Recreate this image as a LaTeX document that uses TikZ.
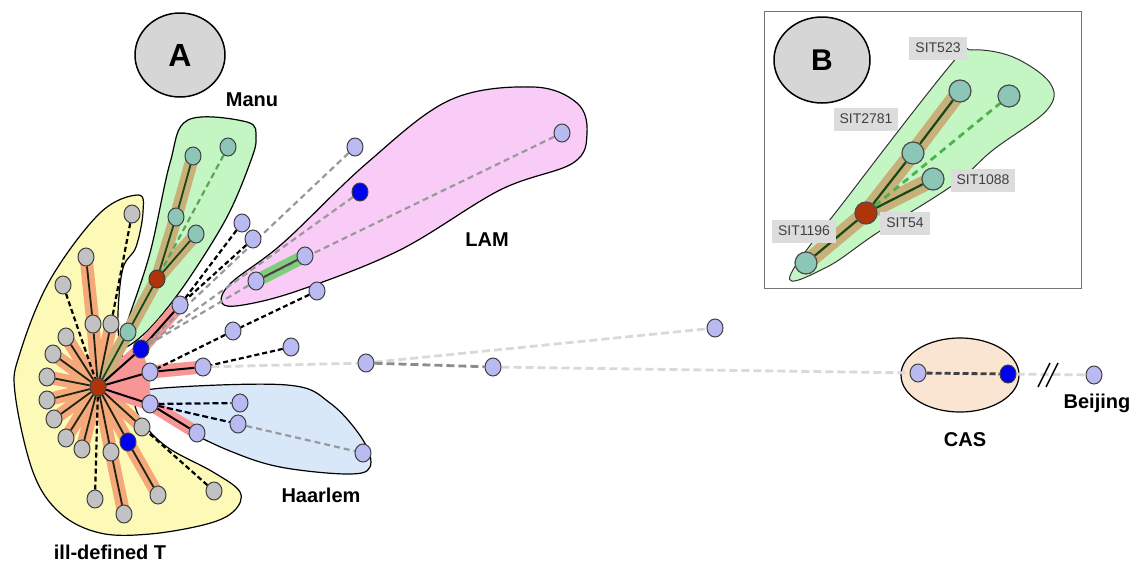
\documentclass[tikz,border=0pt]{standalone}
\usepackage{fontspec}
\setmainfont{Liberation Sans}
\usetikzlibrary{shapes.geometric}
\pgfdeclarelayer{blobs}
\pgfdeclarelayer{hl}
\pgfdeclarelayer{edges}
\pgfsetlayers{blobs,hl,edges,main}
\definecolor{lavnode}{RGB}{186,186,242}
\definecolor{graynode}{RGB}{194,194,194}
\definecolor{tealnode}{RGB}{140,198,182}
\definecolor{bluenode}{RGB}{0,0,240}
\definecolor{rednode}{RGB}{176,52,10}
\definecolor{yellowblob}{RGB}{252,250,182}
\definecolor{greenblob}{RGB}{196,246,196}
\definecolor{pinkblob}{RGB}{248,204,246}
\definecolor{blueblob}{RGB}{216,232,248}
\definecolor{casblob}{RGB}{250,229,210}
\definecolor{fanhl}{RGB}{245,168,122}
\definecolor{redhl}{RGB}{248,150,150}
\definecolor{tanhl}{RGB}{200,176,122}
\definecolor{edgedark}{RGB}{30,36,16}
\definecolor{greenedge}{RGB}{24,72,24}
\definecolor{labelbox}{RGB}{220,220,220}

\begin{document}
\begin{tikzpicture}[x=1pt,y=-1pt,
    vx/.style={ellipse,draw=black!75,line width=1pt,minimum width=16pt,minimum height=18pt,inner sep=0pt},
    lav/.style={vx,fill=lavnode},
    gry/.style={vx,fill=graynode},
    teal/.style={vx,fill=tealnode},
    blu/.style={vx,fill=bluenode},
    red/.style={vx,fill=rednode},
    bvx/.style={circle,draw=black!70,line width=1.2pt,minimum size=22pt,inner sep=0pt,fill=tealnode},
    solidedge/.style={draw=edgedark,line width=1.8pt},
    blkdash/.style={draw=black,line width=2.2pt,dash pattern=on 5pt off 3pt},
    slatedash/.style={draw=black!75!blue!40!black,line width=2.2pt,dash pattern=on 6pt off 3pt},
    graydash/.style={draw=black!40,line width=2.2pt,dash pattern=on 6pt off 4pt},
    lightdash/.style={draw=black!15,line width=2.8pt,dash pattern=on 8pt off 4pt},
    band/.style={line width=13pt,line cap=round},
    blob/.style={draw=black,line width=1.2pt},
    grouplabel/.style={font=\bfseries\fontsize{20}{24}\selectfont},
    sitlabel/.style={fill=labelbox,text=black!75,font=\fontsize{14}{16}\selectfont,inner xsep=6pt,minimum height=23pt}
  ]
  \useasboundingbox (0,0) rectangle (1136,565);

  \begin{pgfonlayer}{blobs}
    \draw[blob,fill=yellowblob] plot[smooth cycle,tension=0.6] coordinates {(138,195) (143,212) (136,247) (123,268) (118,313) (120,347) (127,368) (132,393) (141,420) (167,447) (213,472) (240,492) (234,511) (207,524) (150,534) (100,533) (60,513) (33,472) (15,393) (20,353) (50,280) (100,213)};
    \draw[blob,fill=greenblob] plot[smooth cycle,tension=0.6] coordinates {(188,120) (247,122) (256,138) (250,163) (227,217) (190,277) (160,317) (137,340) (120,348) (127,323) (150,253) (170,163)};
    \draw[blob,fill=pinkblob] plot[smooth cycle,tension=0.6] coordinates {(222,303) (231,283) (283,243) (367,163) (450,100) (533,87) (577,103) (587,133) (573,163) (500,190) (400,250) (300,290) (243,305)};
    \draw[blob,fill=blueblob] plot[smooth cycle,tension=0.6] coordinates {(132,397) (163,388) (287,385) (330,403) (363,440) (370,467) (347,474) (280,467) (230,451) (180,427) (147,407)};
    \draw[blob,fill=casblob] (960,375) ellipse (59 and 37);
    \draw[draw=black!55,line width=1pt,fill=white] (764,11) rectangle (1081,288);
    \draw[draw=black!80,line width=1pt,fill=greenblob] plot[smooth cycle,tension=0.6] coordinates {(790,276) (853,190) (953,62) (972,50) (1013,57) (1050,83) (1047,110) (993,150) (953,185) (877,233) (827,267)};
  \end{pgfonlayer}

  \node[ellipse,draw,line width=1.5pt,fill=black!16,minimum width=90pt,minimum height=84pt,font=\bfseries\fontsize{32}{36}\selectfont] (tagA) at (180,55) {A};
  \node[ellipse,draw,line width=1.5pt,fill=black!16,minimum width=96pt,minimum height=86pt,font=\bfseries\fontsize{30}{34}\selectfont] (tagB) at (822,60) {B};

  \node[red] (t0) at (98,387) {};
  \node[gry] (g1) at (132,214) {};
  \node[gry] (g2) at (86,257) {};
  \node[gry] (g3) at (63,285) {};
  \node[gry] (g4) at (93,324) {};
  \node[gry] (g5) at (111,324) {};
  \node[gry] (g6) at (66,337) {};
  \node[gry] (g7) at (53,354) {};
  \node[gry] (g8) at (47,377) {};
  \node[gry] (g9) at (47,400) {};
  \node[gry] (g10) at (54,419) {};
  \node[gry] (g11) at (66,438) {};
  \node[gry] (g12) at (82,449) {};
  \node[gry] (g13) at (111,452) {};
  \node[blu] (tb) at (128,442) {};
  \node[gry] (g14) at (142,427) {};
  \node[gry] (g15) at (95,499) {};
  \node[gry] (g16) at (124,514) {};
  \node[gry] (g17) at (158,495) {};
  \node[gry] (g18) at (214,491) {};

  \node[red] (mr) at (157,279) {};
  \node[teal] (m1) at (193,156) {};
  \node[teal] (m2) at (228,147) {};
  \node[teal] (m3) at (176,217) {};
  \node[teal] (m4) at (196,234) {};
  \node[teal] (m5) at (128,332) {};

  \node[blu] (jb) at (141,349) {};
  \node[lav] (j1) at (180,305) {};
  \node[lav] (j2) at (150,372) {};
  \node[lav] (j3) at (203,367) {};
  \node[lav] (h1) at (150,404) {};
  \node[lav] (h2) at (197,433) {};
  \node[lav] (h3) at (240,403) {};
  \node[lav] (h4) at (238,424) {};
  \node[lav] (h5) at (363,453) {};
  \node[lav] (k1) at (242,223) {};
  \node[lav] (k2) at (253,239) {};
  \node[lav] (k3) at (233,331) {};
  \node[lav] (k4) at (291,347) {};
  \node[lav] (k5) at (317,291) {};
  \node[lav] (k6) at (355,147) {};
  \node[lav] (l1) at (256,281) {};
  \node[lav] (l2) at (305,256) {};
  \node[blu] (lb) at (360,192) {};
  \node[lav] (l3) at (562,133) {};
  \node[lav] (r1) at (366,363) {};
  \node[lav] (r2) at (493,367) {};
  \node[lav] (r3) at (715,328) {};
  \node[lav] (c1) at (918,373) {};
  \node[blu] (c2) at (1008,374) {};
  \node[lav] (bj) at (1094,375) {};

  \node[bvx] (b523) at (960,91) {};
  \node[bvx] (bx) at (1009,96) {};
  \node[bvx] (b2781) at (913,153) {};
  \node[bvx] (b1088) at (933,179) {};
  \node[bvx,fill=rednode] (b54) at (866,213) {};
  \node[bvx] (b1196) at (806,263) {};

  \begin{pgfonlayer}{hl}
    \fill[redhl] (t0.center) -- (jb.center) -- (j2.center) -- (h1.center) -- cycle;
    \fill[fanhl] (t0.center) circle (26);
    \draw[band,draw=fanhl] (t0.center) -- (g4.center) -- (g2.center);
    \draw[band,draw=fanhl] (t0.center) -- (g5.center) (t0.center) -- (g6.center) (t0.center) -- (g7.center) (t0.center) -- (g8.center) (t0.center) -- (g9.center) (t0.center) -- (g10.center) (t0.center) -- (g11.center) (t0.center) -- (g12.center) (t0.center) -- (g14.center);
    \draw[band,draw=fanhl] (t0.center) -- (g13.center) -- (g16.center);
    \draw[band,draw=fanhl] (t0.center) -- (tb.center) -- (g17.center);
    \draw[band,draw=redhl] (t0.center) -- (jb.center) -- (j1.center);
    \draw[band,draw=redhl] (t0.center) -- (j2.center) -- (j3.center);
    \draw[band,draw=redhl] (t0.center) -- (h1.center) -- (h2.center);
    \draw[band,draw=tanhl] (t0.center) -- (m5.center) -- (mr.center) -- (m3.center) -- (m1.center);
    \draw[band,draw=tanhl] (mr.center) -- (m4.center);
    \draw[band,draw=green!45!gray!70] (l1.center) -- (l2.center);
    \draw[line width=16pt,line cap=round,draw=tanhl] (b1196.center) -- (b54.center) -- (b2781.center) -- (b523.center);
    \draw[line width=16pt,line cap=round,draw=tanhl] (b54.center) -- (b1088.center);
  \end{pgfonlayer}

  \begin{pgfonlayer}{edges}
    \draw[solidedge] (t0) -- (g4) (g4) -- (g2) (t0) -- (g5) (t0) -- (g6) (t0) -- (g7) (t0) -- (g8) (t0) -- (g9) (t0) -- (g10) (t0) -- (g11) (t0) -- (g12) (t0) -- (g13) (g13) -- (g16) (t0) -- (tb) (tb) -- (g17) (t0) -- (g14);
    \draw[blkdash] (g1) -- (g5) (g3) -- (t0) (g15) -- (t0) (g18) -- (g14);
    \draw[draw=greenedge,line width=1.8pt] (t0) -- (m5) -- (mr) -- (m3) -- (m1) (mr) -- (m4);
    \draw[draw=green!30!gray,line width=2.2pt,dash pattern=on 6pt off 4pt] (m2) -- (mr);
    \draw[draw=black,line width=2pt] (t0) -- (jb) -- (j1) (t0) -- (j2) -- (j3) (t0) -- (h1) -- (h2);
    \draw[blkdash] (k1) -- (j1) (k2) -- (j1) (k5) -- (k3) (k3) -- (j2) (k4) -- (j3);
    \draw[graydash] (k6) -- (jb) (lb) -- (jb) (l3) -- (l1) (l1) -- (jb);
    \draw[draw=black!80!magenta,line width=2pt] (l1) -- (l2);
    \draw[slatedash] (h1) -- (h3) (h1) -- (h4);
    \draw[graydash] (h4) -- (h5);
    \draw[lightdash] (j3) -- (r1) (r1) -- (r3) (r2) -- (c1) (c2) -- (bj);
    \draw[draw=black!45,line width=2.8pt,dash pattern=on 8pt off 4pt] (r1) -- (r2);
    \draw[draw=black!75,line width=2.8pt,dash pattern=on 6pt off 3pt] (c1) -- (c2);
    \draw[draw=greenedge,line width=2.2pt] (b1196) -- (b54) -- (b2781) -- (b523) (b54) -- (b1088);
    \draw[draw=green!40!gray,line width=2.8pt,dash pattern=on 7pt off 5pt] (b54) -- (bx);
  \end{pgfonlayer}

  \coordinate (brk) at (1047,375);
  \draw[line width=1.5pt] ([xshift=-9pt,yshift=-12pt]brk) -- ([xshift=3pt,yshift=12pt]brk);
  \draw[line width=1.5pt] ([xshift=-1pt,yshift=-12pt]brk) -- ([xshift=11pt,yshift=12pt]brk);

  \node[grouplabel] (lblmanu) at (252,100) {Manu};
  \node[grouplabel] (lbllam) at (487,240) {LAM};
  \node[grouplabel] (lblhaarlem) at (321,495) {Haarlem};
  \node[grouplabel] (lblill) at (110,552) {ill-defined T};
  \node[grouplabel] (lblcas) at (965,440) {CAS};
  \node[grouplabel] (lblbeijing) at (1097,403) {Beijing};

  \node[sitlabel] (s523) at (938,48) {SIT523};
  \node[sitlabel] (s2781) at (866,119) {SIT2781};
  \node[sitlabel] (s1088) at (983,180) {SIT1088};
  \node[sitlabel] (s54) at (905,223) {SIT54};
  \node[sitlabel] (s1196) at (804,231) {SIT1196};
\end{tikzpicture}
\end{document}
